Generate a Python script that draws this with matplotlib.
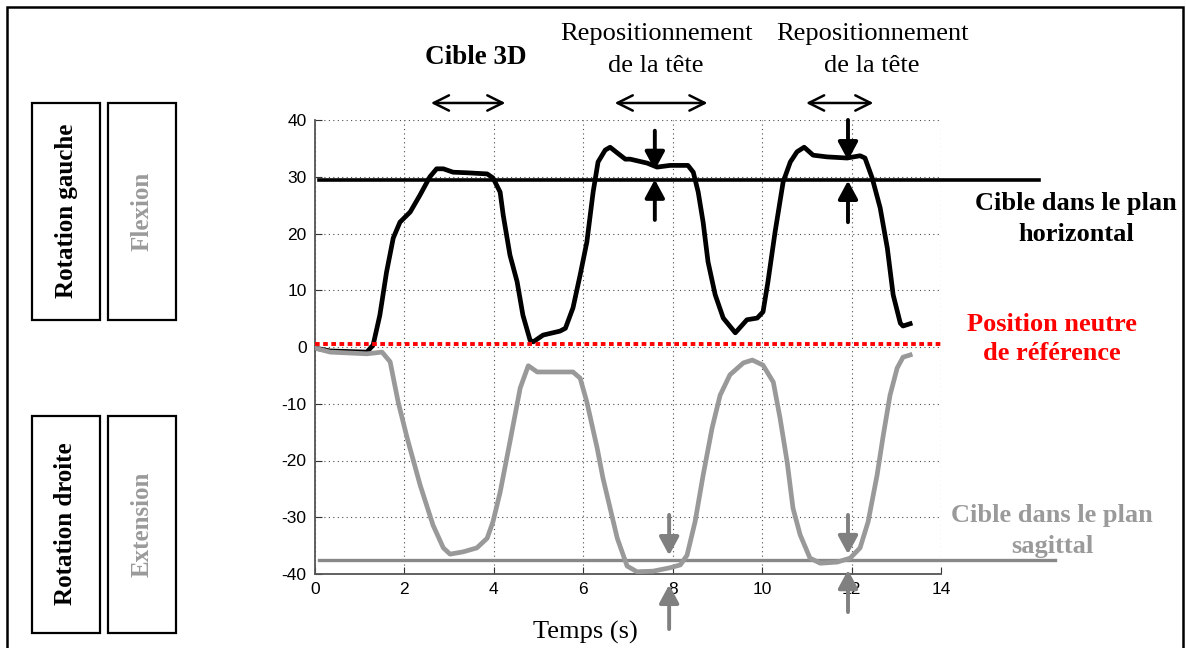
import matplotlib
matplotlib.use('Agg')
import matplotlib.pyplot as plt
from matplotlib.patches import Rectangle

plt.rcParams['axes.unicode_minus'] = False

# rotation (plan horizontal), degres
t_rot = [0.0, 0.34, 1.16, 1.3, 1.45, 1.6, 1.75, 1.9, 2.13, 2.35, 2.57, 2.72, 2.87, 3.09, 3.4,
         3.85, 3.98, 4.14, 4.21, 4.36, 4.52, 4.65, 4.81, 4.88, 5.1, 5.48, 5.6, 5.77, 5.93, 6.08,
         6.22, 6.33, 6.49, 6.6, 6.76, 6.94, 7.05, 7.43, 7.65, 7.94, 8.34, 8.46, 8.57, 8.68, 8.79,
         8.95, 9.13, 9.4, 9.66, 9.89, 10.02, 10.13, 10.29, 10.47, 10.63, 10.78, 10.94, 11.14,
         11.45, 11.9, 12.19, 12.3, 12.46, 12.64, 12.8, 12.93, 13.09, 13.15, 13.31]
rot = [-0.2, -0.7, -0.9, 0.35, 5.6, 13.2, 19.2, 22.0, 23.8, 26.8, 30.0, 31.4, 31.4, 30.8, 30.7,
       30.5, 29.8, 27.3, 23.2, 16.2, 11.5, 5.6, 1.2, 0.9, 2.1, 2.8, 3.3, 6.9, 12.7, 18.5,
       27.3, 32.6, 34.7, 35.2, 34.2, 33.1, 33.1, 32.4, 31.7, 32.0, 32.0, 30.8, 27.3, 22.0, 15.0,
       9.2, 5.1, 2.5, 4.8, 5.1, 6.2, 11.5, 20.3, 29.1, 32.6, 34.4, 35.2, 33.8,
       33.5, 33.3, 33.7, 33.3, 29.8, 24.5, 17.4, 9.2, 4.2, 3.7, 4.1]

# flexion / extension (plan sagittal), degres
t_flex = [0.0, 0.34, 1.16, 1.5, 1.68, 1.86, 2.06, 2.35, 2.64, 2.87, 3.02, 3.31, 3.62, 3.85,
          3.98, 4.14, 4.36, 4.59, 4.77, 4.97, 5.26, 5.77, 5.93, 6.08, 6.31, 6.44, 6.6, 6.76,
          6.98, 7.2, 7.56, 7.94, 8.17, 8.32, 8.5, 8.68, 8.88, 9.06, 9.28, 9.58, 9.78, 10.02,
          10.25, 10.4, 10.56, 10.69, 10.85, 11.07, 11.3, 11.68, 11.97, 12.19, 12.37, 12.57,
          12.71, 12.86, 13.02, 13.15, 13.31]
flex = [-0.2, -0.9, -1.2, -0.9, -2.6, -9.7, -16.0, -24.3, -31.4, -35.4, -36.5, -36.1, -35.4, -33.7,
        -30.8, -25.6, -16.7, -7.2, -3.3, -4.4, -4.4, -4.4, -5.5, -9.7, -17.8, -23.1, -28.4, -33.7,
        -38.6, -39.6, -39.5, -38.9, -38.4, -36.7, -30.8, -22.6, -14.3, -8.5, -4.9, -2.8, -2.3, -3.2,
        -6.2, -12.5, -20.3, -28.4, -33.1, -37.2, -38.1, -37.9, -37.2, -35.4, -30.8, -22.6,
        -15.5, -8.5, -3.7, -1.8, -1.4]

cible_horiz = 29.4
cible_sagit = -37.5
neutre = 0.5
x_ticks = [0, 2, 4, 6, 8, 10, 12, 14]
y_ticks = [-40, -30, -20, -10, 0, 10, 20, 30, 40]
fenetres = [(2.53, 4.32), (6.64, 8.84), (10.92, 12.55)]
reperes = [7.6, 11.92]
reperes_sagit = [7.92, 11.92]

W, H = 1186, 648
def fx(px):
    return px / W
def fy(py):
    return 1 - py / H

serif = 'Liberation Serif'
gris = '#9a9a9a'

fig = plt.figure(figsize=(11.86, 6.48), dpi=100)
ax = fig.add_axes([fx(315), fy(574), fx(941) - fx(315), fy(120) - fy(574)])

ax.plot(t_rot, rot, color='black', lw=3.4, solid_joinstyle='round', zorder=4)
ax.plot(t_flex, flex, color='#999999', lw=3.4, solid_joinstyle='round', zorder=4)

# lignes cibles et position neutre
ax.plot([0.1, 16.2], [cible_horiz, cible_horiz], color='black', lw=2.6, clip_on=False, zorder=3)
ax.plot([0.1, 16.55], [cible_sagit, cible_sagit], color='#888888', lw=2.4, clip_on=False, zorder=3)
ax.plot([0, 14], [neutre, neutre], color='red', lw=2.8, linestyle=(0, (1.2, 0.9)), zorder=5)

ax.set_xlim(0, 14)
ax.set_ylim(-40, 40)
ax.set_xticks(x_ticks)
ax.set_yticks(y_ticks)
ax.grid(True, color='0.3', linestyle=(0, (1, 3)), lw=0.8)
for s in ['top', 'right']:
    ax.spines[s].set_visible(False)
for s in ['left', 'bottom']:
    ax.spines[s].set_color('#555555')
    ax.spines[s].set_linewidth(1.3)
ax.tick_params(direction='in', length=5, color='#333333', labelsize=12.5, pad=6)
for lab in ax.get_xticklabels() + ax.get_yticklabels():
    lab.set_fontfamily('Liberation Sans')

# fenetres temporelles (fleches doubles)
for a, b in fenetres:
    ax.annotate('', xy=(a, 43.0), xytext=(b, 43.0), annotation_clip=False,
                arrowprops=dict(arrowstyle='<->, head_length=0.5, head_width=0.25',
                                lw=1.8, color='black', mutation_scale=22))

fleche = '-|>, head_length=0.5, head_width=0.27'

# fleches verticales noires
ax.annotate('', xy=(reperes[0], 30.7), xytext=(reperes[0], 38.6), annotation_clip=False,
            arrowprops=dict(arrowstyle=fleche, lw=2.8, color='black', mutation_scale=22))
ax.annotate('', xy=(reperes[0], 30.0), xytext=(reperes[0], 21.9), annotation_clip=False,
            arrowprops=dict(arrowstyle=fleche, lw=2.8, color='black', mutation_scale=22))
ax.annotate('', xy=(reperes[1], 32.4), xytext=(reperes[1], 40.5), annotation_clip=False,
            arrowprops=dict(arrowstyle=fleche, lw=2.8, color='black', mutation_scale=22))
ax.annotate('', xy=(reperes[1], 29.8), xytext=(reperes[1], 21.5), annotation_clip=False,
            arrowprops=dict(arrowstyle=fleche, lw=2.8, color='black', mutation_scale=22))

# fleches verticales grises
ax.annotate('', xy=(reperes_sagit[0], -37.2), xytext=(reperes_sagit[0], -29.1), annotation_clip=False,
            arrowprops=dict(arrowstyle=fleche, lw=2.8, color='#808080', mutation_scale=22))
ax.annotate('', xy=(reperes_sagit[0], -41.4), xytext=(reperes_sagit[0], -50.2), annotation_clip=False,
            arrowprops=dict(arrowstyle=fleche, lw=2.8, color='#808080', mutation_scale=22))
ax.annotate('', xy=(reperes_sagit[1], -37.0), xytext=(reperes_sagit[1], -29.1), annotation_clip=False,
            arrowprops=dict(arrowstyle=fleche, lw=2.8, color='#808080', mutation_scale=22))
ax.annotate('', xy=(reperes_sagit[1], -38.8), xytext=(reperes_sagit[1], -47.2), annotation_clip=False,
            arrowprops=dict(arrowstyle=fleche, lw=2.8, color='#808080', mutation_scale=22))

# textes
fig.text(fx(476), fy(58), 'Cible 3D', family=serif, weight='bold', size=19.5, ha='center', va='center')
fig.text(fx(656), fy(50), 'Repositionnement\nde la tête', family=serif, size=19,
         ha='center', va='center', linespacing=1.55)
fig.text(fx(872), fy(50), 'Repositionnement\nde la tête', family=serif, size=19,
         ha='center', va='center', linespacing=1.55)
fig.text(fx(1076), fy(219), 'Cible dans le plan\nhorizontal', family=serif, weight='bold', size=19,
         ha='center', va='center', linespacing=1.47)
fig.text(fx(1052), fy(339), 'Position neutre\nde référence', family=serif, weight='bold', size=19,
         ha='center', va='center', color='red', linespacing=1.38)
fig.text(fx(1052), fy(531), 'Cible dans le plan\nsagittal', family=serif, weight='bold', size=19,
         ha='center', va='center', color=gris, linespacing=1.42)
fig.text(fx(585), fy(632), 'Temps (s)', family=serif, size=19, ha='center', va='center')

# cadres lateraux
boxes = [(32, 103, 'Rotation gauche', 'black'), (108, 103, 'Flexion', gris),
         (32, 416, 'Rotation droite', 'black'), (108, 416, 'Extension', gris)]
for x0, y0, txt, col in boxes:
    fig.patches.append(Rectangle((fx(x0), fy(y0 + 217)), fx(68), 217 / H, transform=fig.transFigure,
                                 fill=False, edgecolor='black', lw=1.6))
    fig.text(fx(x0 + 34), fy(y0 + 108), txt, family=serif, weight='bold', size=18, color=col,
             rotation=90, ha='center', va='center')

# cadre general
fig.patches.append(Rectangle((fx(7), -0.02), fx(1176), fy(7) + 0.02, transform=fig.transFigure,
                             fill=False, edgecolor='black', lw=1.8))

fig.savefig('out.png', dpi=100)
